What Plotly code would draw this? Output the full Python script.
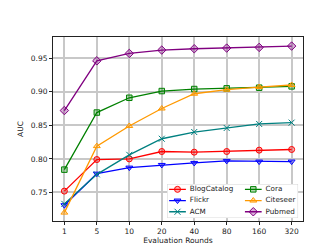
import plotly.graph_objects as go

rounds = ['1', '5', '10', '20', '40', '80', '160', '320']
names = ['BlogCatalog', 'Flickr', 'ACM', 'Cora', 'Citeseer', 'Pubmed']
blogcatalog = [0.752, 0.799, 0.800, 0.811, 0.810, 0.811, 0.813, 0.814]
flickr = [0.731, 0.778, 0.787, 0.791, 0.794, 0.797, 0.796, 0.796]
acm = [0.733, 0.777, 0.806, 0.830, 0.840, 0.846, 0.852, 0.854]
cora = [0.784, 0.869, 0.891, 0.901, 0.904, 0.905, 0.906, 0.908]
citeseer = [0.720, 0.819, 0.849, 0.875, 0.897, 0.903, 0.907, 0.910]
pubmed = [0.872, 0.946, 0.957, 0.962, 0.964, 0.965, 0.966, 0.968]
yticks = [0.75, 0.80, 0.85, 0.90, 0.95]

series = [blogcatalog, flickr, acm, cora, citeseer, pubmed]
colors = ['#ff0000', '#0000ff', '#008080', '#008000', '#ff9900', '#800080']
fills = ['rgba(255,0,0,0.3)', 'rgba(0,0,255,0.3)', 'rgba(0,128,128,0.3)',
         'rgba(0,128,0,0.3)', 'rgba(255,153,0,0.3)', 'rgba(128,0,128,0.3)']
symbols = ['circle', 'triangle-down', 'x-thin', 'square', 'triangle-up', 'diamond']
sizes = [6, 6, 6, 5.5, 6, 6.5]

FONT = 'DejaVu Sans'
TXT = '#222222'
fig = go.Figure()

for name, vals, c, f, s, sz in zip(names, series, colors, fills, symbols, sizes):
    fig.add_trace(go.Scatter(
        x=rounds, y=vals, mode='lines+markers', name=name, showlegend=False,
        line=dict(color=c, width=1.3),
        marker=dict(symbol=s, size=sz, color=f, line=dict(color=c, width=1)),
        xaxis='x', yaxis='y'))

# manual legend on an overlay axis (units = pixels inside the legend box)
BW, BH = 133, 35
fig.add_trace(go.Scatter(
    x=[0, BW, BW, 0, 0], y=[0, 0, BH, BH, 0], mode='lines', fill='toself',
    fillcolor='rgba(255,255,255,0.85)', line=dict(color='#cccccc', width=0.8),
    showlegend=False, hoverinfo='skip', xaxis='x2', yaxis='y2'))
for i, (name, c, f, s, sz) in enumerate(zip(names, colors, fills, symbols, sizes)):
    col, row = i // 3, i % 3
    x0 = 2 + 77 * col
    yy = BH - 5.5 - 11.5 * row
    fig.add_trace(go.Scatter(
        x=[x0, x0 + 17], y=[yy, yy], mode='lines', line=dict(color=c, width=1.3),
        showlegend=False, hoverinfo='skip', xaxis='x2', yaxis='y2'))
    fig.add_trace(go.Scatter(
        x=[x0 + 8.5], y=[yy], mode='markers',
        marker=dict(symbol=s, size=sz, color=f, line=dict(color=c, width=1)),
        showlegend=False, hoverinfo='skip', xaxis='x2', yaxis='y2'))
    fig.add_trace(go.Scatter(
        x=[x0 + 21], y=[yy], mode='text', text=[name], textposition='middle right',
        textfont=dict(family=FONT, size=7.2, color=TXT),
        showlegend=False, hoverinfo='skip', xaxis='x2', yaxis='y2'))

fig.update_layout(
    width=327, height=245,
    margin=dict(l=41, r=32, t=29, b=27),
    paper_bgcolor='white', plot_bgcolor='white',
    font=dict(family=FONT, size=7.5, color=TXT),
    xaxis=dict(
        type='category', categoryorder='array', categoryarray=rounds,
        range=[-0.35, 7.35],
        showgrid=True, gridcolor='#c8c8c8', gridwidth=1.5,
        showline=True, mirror=True, linecolor=TXT, linewidth=1,
        ticks='outside', ticklen=3, tickcolor=TXT, tickwidth=0.8,
        tickfont=dict(family=FONT, size=7.5, color=TXT),
        title=dict(text='Evaluation Rounds', standoff=0,
                   font=dict(family=FONT, size=7.5, color=TXT)),
        zeroline=False),
    yaxis=dict(
        range=[0.7075, 0.9815],
        tickvals=yticks, ticktext=['%.2f' % v for v in yticks],
        showgrid=True, gridcolor='#c8c8c8', gridwidth=1.5,
        showline=True, mirror=True, linecolor=TXT, linewidth=1,
        ticks='outside', ticklen=3, tickcolor=TXT, tickwidth=0.8,
        tickfont=dict(family=FONT, size=7.5, color=TXT),
        title=dict(text='AUC', standoff=6,
                   font=dict(family=FONT, size=7.5, color=TXT)),
        zeroline=False),
    xaxis2=dict(domain=[(157 - 41) / 254, (290 - 41) / 254], anchor='y2',
                range=[0, BW], visible=False, fixedrange=True),
    yaxis2=dict(domain=[(218 - 215) / 189, (218 - 180) / 189], anchor='x2',
                range=[0, BH], visible=False, fixedrange=True),
    showlegend=False,
)

fig.write_html('out.html')
